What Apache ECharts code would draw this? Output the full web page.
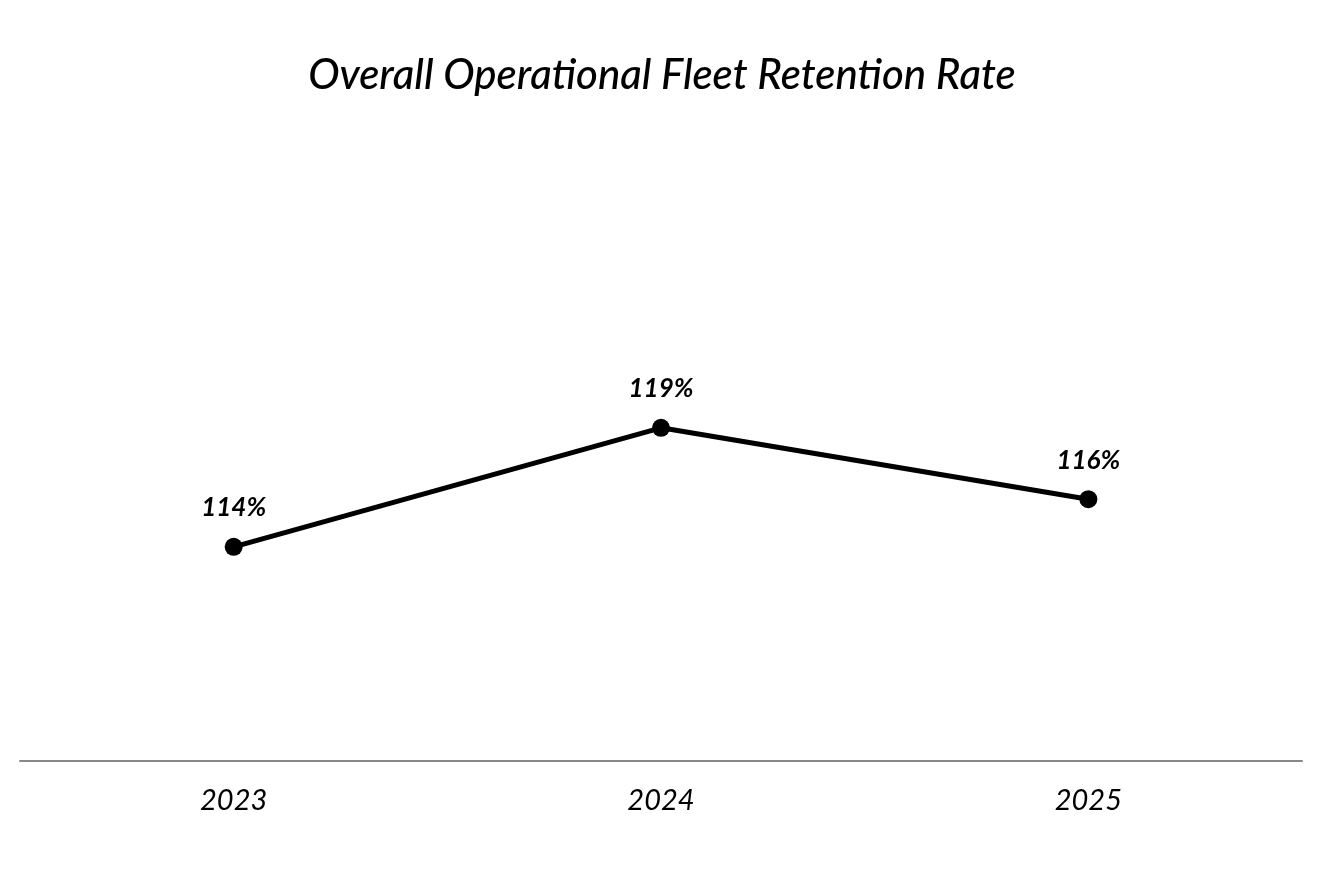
<!DOCTYPE html>
<html>
<head>
<meta charset="utf-8">
<script src="https://cdn.jsdelivr.net/npm/echarts@6/dist/echarts.min.js"></script>
<style>
  html, body { margin: 0; padding: 0; background: #fff; }
  #chart-panel { width: 1324px; height: 870px; }
</style>
</head>
<body>
<div id="chart-panel"></div>
<script>
var years = ['2023', '2024', '2025'];
var retention = [114, 119, 116];

var myChart = echarts.init(document.getElementById('chart-panel'));

myChart.setOption({
    backgroundColor: '#ffffff',
    animation: false,
    title: {
        text: 'Overall Operational Fleet Retention Rate',
        left: 'center',
        top: 49,
        textStyle: {
            fontFamily: 'Lato',
            fontStyle: 'italic',
            fontWeight: 500,
            fontSize: 42,
            color: '#000'
        }
    },
    grid: {
        left: 20,
        right: 22,
        top: 285,
        bottom: 109
    },
    xAxis: {
        type: 'category',
        data: years,
        axisLine: { lineStyle: { color: '#888', width: 2 } },
        axisTick: { show: false },
        axisLabel: {
            margin: 25,
            fontFamily: 'Lato',
            fontStyle: 'italic',
            fontSize: 29,
            color: '#000'
        }
    },
    yAxis: {
        type: 'value',
        min: 105,
        max: 125,
        show: false,
        splitLine: { show: false }
    },
    series: [{
        type: 'line',
        data: retention,
        symbol: 'circle',
        symbolSize: 18,
        itemStyle: { color: '#000' },
        lineStyle: { color: '#000', width: 5 },
        label: {
            show: true,
            position: 'top',
            distance: 17,
            formatter: '{c}%',
            fontFamily: 'Lato',
            fontStyle: 'italic',
            fontWeight: 'bold',
            fontSize: 26,
            color: '#000'
        }
    }]
});
</script>
</body>
</html>
